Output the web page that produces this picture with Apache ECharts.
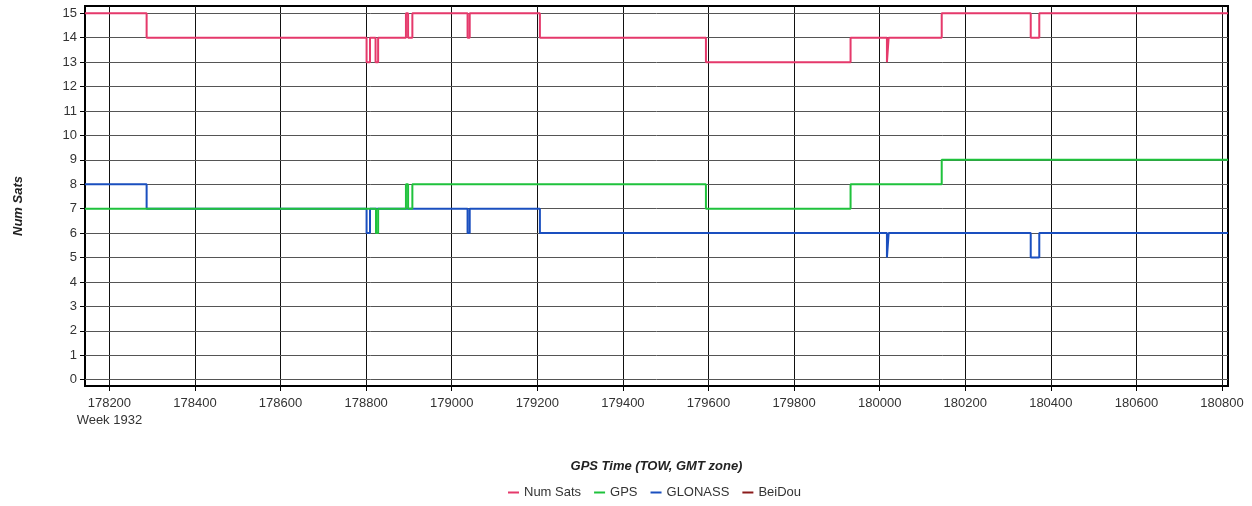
<!DOCTYPE html>
<html>
<head>
<meta charset="utf-8">
<script src="https://cdn.jsdelivr.net/npm/echarts@6/dist/echarts.min.js"></script>
<style>
  html, body { margin: 0; padding: 0; background: #fff; }
  #chart { width: 1252px; height: 506px; }
</style>
</head>
<body>
<div id="chart"></div>
<script>
// -----------------------------------------------------------------------------
// Data (GPS time of week, seconds -> satellite count, value holds until next)
// -----------------------------------------------------------------------------
const xTicks = [178200, 178400, 178600, 178800, 179000, 179200, 179400,
  179600, 179800, 180000, 180200, 180400, 180600, 180800];
const yTicks = [0, 1, 2, 3, 4, 5, 6, 7, 8, 9, 10, 11, 12, 13, 14, 15];

const numSatsTimes = [178143, 178287, 178801, 178809, 178822, 178828, 178893,
  178898, 178908, 179037, 179042, 179206, 179594, 179932, 180017, 180021,
  180145, 180353, 180373, 180814];
const numSatsValues = [15, 14, 13, 14, 13, 14, 15, 14, 15, 14, 15, 14, 13, 14,
  13, 14, 15, 14, 15, 15];

const gpsTimes = [178143, 178823, 178828, 178893, 178898, 178908, 179594,
  179932, 180145, 180814];
const gpsValues = [7, 6, 7, 8, 7, 8, 7, 8, 9, 9];

const glonassTimes = [178143, 178287, 178801, 178809, 179037, 179042, 179206,
  180017, 180021, 180353, 180373, 180814];
const glonassValues = [8, 7, 6, 7, 6, 7, 6, 5, 6, 5, 6, 6];

const beidouTimes = [];
const beidouValues = [];

const pairs = (ts, vs) => ts.map((t, i) => [t, vs[i]]);

// -----------------------------------------------------------------------------
// Chart
// -----------------------------------------------------------------------------
const chart = echarts.init(document.getElementById("chart"), null, { renderer: "canvas" });

const labelFont = { fontFamily: "Liberation Sans", fontSize: 13, color: "#333" };
const nameFont = {
  fontFamily: "Liberation Sans", fontSize: 13, fontWeight: "bold",
  fontStyle: "italic", color: "#222",
};

// grid lines drawn as mark lines so they sit on the real tick values
const gridLines = [
  ...xTicks.map((v) => ({ xAxis: v, lineStyle: { color: "#111", width: 1, type: "solid" } })),
  ...yTicks.map((v) => ({ yAxis: v, lineStyle: { color: "#555", width: 1, type: "solid" } })),
];

const stepSeries = (name, ts, vs, color, z) => ({
  name,
  type: "line",
  step: "end",
  data: pairs(ts, vs),
  showSymbol: false,
  symbol: "none",
  z,
  lineStyle: { color, width: 2 },
  itemStyle: { color },
});

const option = {
  animation: false,
  backgroundColor: "#fff",
  grid: {
    left: 85, right: 24, top: 6, bottom: 120,
    show: true, borderColor: "#000", borderWidth: 2, backgroundColor: "transparent",
  },
  legend: {
    data: ["Num Sats", "GPS", "GLONASS", "BeiDou"],
    bottom: 2,
    left: 503,
    icon: "rect",
    itemWidth: 11,
    itemHeight: 2,
    itemGap: 13,
    textStyle: labelFont,
  },
  xAxis: {
    type: "value",
    min: 178143,
    max: 180814,
    name: "GPS Time (TOW, GMT zone)",
    nameLocation: "middle",
    nameGap: 74,
    nameTextStyle: nameFont,
    axisLine: { show: true, onZero: false, lineStyle: { color: "#000", width: 2 } },
    axisTick: { show: true, customValues: xTicks, length: 5, lineStyle: { color: "#000" } },
    axisLabel: {
      ...labelFont,
      margin: 9,
      customValues: xTicks,
      formatter: (v) => (v === 178200 ? "178200\nWeek 1932" : String(v)),
      lineHeight: 17,
    },
    splitLine: { show: false },
  },
  yAxis: {
    type: "value",
    min: -0.26,
    max: 15.3,
    name: "Num Sats",
    nameLocation: "middle",
    nameGap: 60,
    nameRotate: 90,
    nameTextStyle: { ...nameFont, padding: [0, 20, 0, 0] },
    axisLine: { show: true, lineStyle: { color: "#000", width: 2 } },
    axisTick: { show: true, customValues: yTicks, length: 5, lineStyle: { color: "#000" } },
    axisLabel: { ...labelFont, margin: 8, customValues: yTicks },
    splitLine: { show: false },
  },
  series: [
    {
      name: "gridlines",
      type: "line",
      data: [],
      silent: true,
      z: 1,
      markLine: {
        silent: true,
        symbol: "none",
        z: 1,
        label: { show: false },
        emphasis: { disabled: true },
        data: gridLines,
      },
    },
    stepSeries("Num Sats", numSatsTimes, numSatsValues, "#e5396b", 3),
    stepSeries("GPS", gpsTimes, gpsValues, "#1fc23c", 4),
    stepSeries("GLONASS", glonassTimes, glonassValues, "#1a4fbf", 3),
    stepSeries("BeiDou", beidouTimes, beidouValues, "#8b1a1a", 3),
  ],
};

chart.setOption(option);
</script>
</body>
</html>
